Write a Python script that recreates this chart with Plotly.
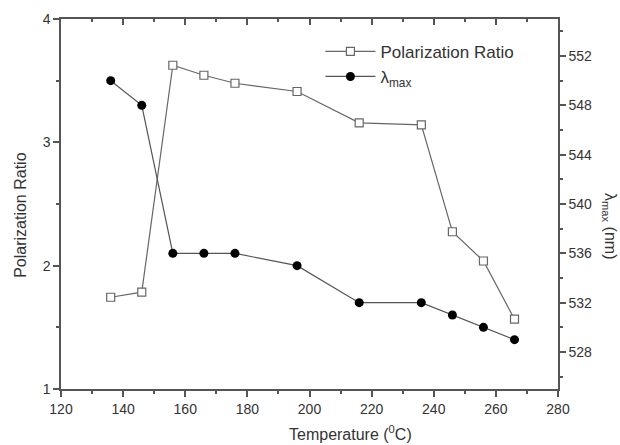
import plotly.graph_objects as go

temperature = [136, 146, 156, 166, 176, 196, 216, 236, 246, 256, 266]
polarization_ratio = [1.744, 1.785, 3.625, 3.544, 3.479, 3.412, 3.158, 3.142, 2.275, 2.038, 1.566]
lambda_max = [550, 548, 536, 536, 536, 535, 532, 532, 531, 530, 529]

x_ticks = [120, 140, 160, 180, 200, 220, 240, 260, 280]
y_ticks = [1, 2, 3, 4]
y2_ticks = [528, 532, 536, 540, 544, 548, 552]

FONT = "Liberation Sans, Arial, sans-serif"
AX = "#555555"
TXT = "#333333"

fig = go.Figure()
fig.add_trace(go.Scatter(
    x=temperature, y=polarization_ratio, name="Polarization Ratio",
    mode="lines+markers",
    line=dict(color="#666666", width=1.2),
    marker=dict(symbol="square", size=8, color="white", line=dict(color="#666666", width=1.2)),
    yaxis="y", xaxis="x"))
fig.add_trace(go.Scatter(
    x=temperature, y=lambda_max, name="λ<sub>max</sub>",
    mode="lines+markers",
    line=dict(color="#555555", width=1.2),
    marker=dict(symbol="circle", size=9, color="black"),
    yaxis="y2", xaxis="x"))
# invisible trace so the top mirror axis is drawn
fig.add_trace(go.Scatter(x=[x_ticks[0]], y=[y_ticks[0]], xaxis="x2", yaxis="y",
                         mode="markers", marker=dict(opacity=0), showlegend=False, hoverinfo="skip"))

fig.update_layout(
    width=620, height=445,
    margin=dict(l=61, r=62, t=19, b=56),
    paper_bgcolor="white", plot_bgcolor="white",
    font=dict(family=FONT, color=TXT, size=13),
    showlegend=True,
    legend=dict(x=0.522, y=0.96, xanchor="left", yanchor="top",
                font=dict(size=17, color=TXT, family=FONT),
                bgcolor="rgba(0,0,0,0)", itemwidth=50, tracegroupgap=0),
    xaxis=dict(range=[120, 280], tickvals=x_ticks, ticks="outside", ticklen=6, tickwidth=1.5,
               tickcolor=AX, showline=True, linecolor=AX, linewidth=1.5, showgrid=False,
               zeroline=False, tickfont=dict(size=14, color=TXT),
               minor=dict(dtick=10, tick0=120, ticks="outside", ticklen=3, tickwidth=1.5, tickcolor=AX)),
    xaxis2=dict(range=[120, 280], overlaying="x", side="top", tickvals=x_ticks, ticks="inside",
                ticklen=6, tickwidth=1.5, tickcolor=AX, showline=True, linecolor=AX, linewidth=1.5,
                showgrid=False, zeroline=False, showticklabels=False,
                minor=dict(dtick=10, tick0=120, ticks="inside", ticklen=3, tickwidth=1.5, tickcolor=AX)),
    yaxis=dict(range=[1, 4], tickvals=y_ticks, ticks="outside", ticklen=6, tickwidth=1.5,
               tickcolor=AX, showline=True, linecolor=AX, linewidth=1.5, showgrid=False,
               zeroline=False, tickfont=dict(size=14, color=TXT),
               minor=dict(dtick=0.5, tick0=1, ticks="outside", ticklen=3, tickwidth=1.5, tickcolor=AX)),
    yaxis2=dict(range=[525, 555], overlaying="y", side="right", tickvals=y2_ticks, ticks="outside",
                ticklen=6, tickwidth=1.5, tickcolor=AX, showline=True, linecolor=AX, linewidth=1.5,
                showgrid=False, zeroline=False, tickfont=dict(size=14, color=TXT),
                minor=dict(dtick=2, tick0=526, ticks="outside", ticklen=3, tickwidth=1.5, tickcolor=AX)),
    annotations=[
        dict(text="Polarization Ratio", xref="paper", yref="paper", x=-0.083, y=0.47,
             textangle=-90, showarrow=False, font=dict(size=16, color=TXT), xanchor="center", yanchor="middle"),
        dict(text="Temperature (<sup>0</sup>C)", xref="paper", yref="paper", x=0.582, y=-0.118,
             showarrow=False, font=dict(size=16, color=TXT), xanchor="center", yanchor="middle"),
        dict(text="λ<sub>max</sub> (nm)", xref="paper", yref="paper", x=1.105, y=0.44,
             textangle=90, showarrow=False, font=dict(size=16, color=TXT), xanchor="center", yanchor="middle"),
    ],
)

fig.write_html("out.html")
